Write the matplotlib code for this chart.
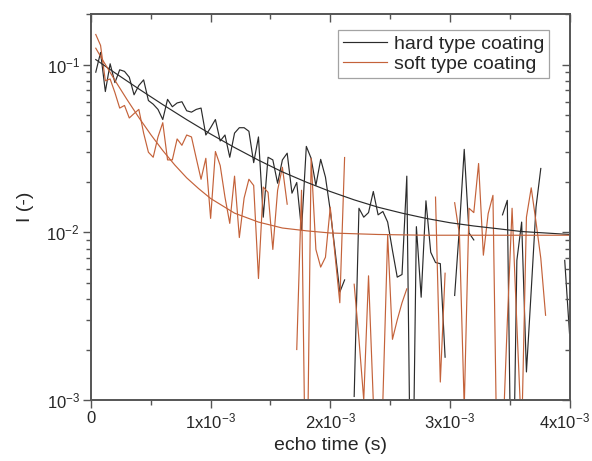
"""NMR echo decay of hard vs soft coatings, log-scale intensity vs echo time."""

import matplotlib as mpl
import numpy as np

mpl.use("Agg")
import matplotlib.pyplot as plt
import matplotlib.transforms as mtransforms
from matplotlib.ticker import FixedLocator, FuncFormatter, LogLocator, MultipleLocator, NullFormatter

nan = float("nan")

# echo times: 100 echoes, 0.04 ms spacing
echo_spacing = 4e-5
echo_time = np.arange(1, 101) * echo_spacing

# measured intensities (nan = negative value, dropped on the log axis)
hard_signal = [
    0.090, 0.118, 0.069, 0.101, 0.078, 0.093, 0.091, 0.084, 0.066, 0.075,
    0.081, 0.061, 0.058, 0.054, 0.047, 0.062, 0.056, 0.059, 0.060, 0.053,
    0.052, 0.054, 0.055, 0.038, 0.042, 0.047, 0.035, 0.038, 0.028, 0.039,
    0.042, 0.042, 0.040, 0.026, 0.037, 0.0123, 0.028, 0.027, 0.0196, 0.027,
    0.0296, 0.0171, 0.0198, 0.0103, 0.0325, 0.0276, 0.0190, 0.0272, 0.0213, 0.0135,
    0.0078, 0.0044, 0.0052, nan, 0.00105, 0.0139, 0.0123, 0.0131, 0.0175, 0.0127,
    0.0133, 0.0115, 0.0078, 0.0054, 0.0056, 0.0216, 0.000075, 0.0108, 0.0041, 0.0154,
    0.0076, 0.0066, 0.0065, 0.0018, nan, 0.0042, 0.0107, 0.0312, 0.0099, 0.0090,
    nan, nan, nan, nan, nan, 0.0127, 0.0155, 0.0001, 0.0068, 0.0115,
    0.00147, 0.0045, 0.0141, 0.024, nan, nan, nan, nan, 0.0068, 0.0025,
]
soft_signal = [
    0.151, 0.130, 0.080, 0.082, 0.068, 0.055, 0.057, 0.048, 0.051, 0.054,
    0.039, 0.030, 0.028, 0.037, 0.045, 0.027, 0.027, 0.036, 0.033, 0.038,
    0.037, 0.0276, 0.0207, 0.0276, 0.0121, 0.0303, 0.0250, 0.0162, 0.0113, 0.0216,
    0.0093, 0.0160, 0.0207, 0.0190, 0.0053, 0.0186, 0.0173, 0.0079, 0.0178, 0.0244,
    0.0147, nan, 0.0020, 0.0178, 0.00013, 0.0276, 0.0079, 0.0062, 0.0071, 0.0141,
    0.0073, 0.0038, 0.0279, nan, 0.0049, 0.0023, 0.00100, 0.0055, 0.00098, nan,
    0.00100, 0.0096, 0.0023, 0.0030, 0.0038, 0.0046, nan, nan, nan, nan,
    nan, 0.0162, 0.00128, 0.0057, nan, 0.0150, 0.0097, 0.0009, 0.0139, 0.0131,
    0.0257, 0.0073, 0.0129, 0.0166, 0.00021, 0.00052, 0.0029, 0.0139, 0.0028, 0.0006,
    0.0123, 0.0184, 0.0115, 0.0070, 0.0032, nan, nan, nan, nan, nan,
]

# fitted decay curves
hard_fit_time = [0.04e-3, 0.2e-3, 0.4e-3, 0.6e-3, 0.8e-3, 1.0e-3, 1.2e-3, 1.4e-3, 1.6e-3, 1.8e-3,
                 2.0e-3, 2.2e-3, 2.4e-3, 2.6e-3, 2.8e-3, 3.0e-3, 3.2e-3, 3.4e-3, 3.6e-3, 3.8e-3, 4.0e-3]
hard_fit = [0.107, 0.0892, 0.0715, 0.0577, 0.0469, 0.0385, 0.0320, 0.0269, 0.0229, 0.0199,
            0.0175, 0.0156, 0.0141, 0.0130, 0.0121, 0.0114, 0.0109, 0.0105, 0.0101, 0.0099, 0.0097]
soft_fit_time = [0.04e-3, 0.1e-3, 0.2e-3, 0.3e-3, 0.4e-3, 0.5e-3, 0.6e-3, 0.7e-3, 0.8e-3, 0.9e-3,
                 1.0e-3, 1.2e-3, 1.4e-3, 1.6e-3, 1.8e-3, 2.0e-3, 2.4e-3, 2.8e-3, 3.2e-3, 3.6e-3, 4.0e-3]
soft_fit = [0.1251, 0.1056, 0.0805, 0.0620, 0.0483, 0.0382, 0.0307, 0.0252, 0.0211, 0.0182,
            0.0159, 0.0130, 0.0115, 0.0106, 0.0102, 0.0099, 0.0097, 0.0096, 0.0096, 0.0096, 0.0096]

labels = ["hard type coating", "soft type coating"]
x_ticks = [0, 1e-3, 2e-3, 3e-3, 4e-3]

HARD = "#2b2b2b"
SOFT = "#c4623a"
AXIS = "#555555"
TEXT = "#262626"

plt.rcParams.update({
    "font.family": ["Liberation Sans", "DejaVu Sans"],
    "mathtext.fontset": "custom",
    "mathtext.rm": "Liberation Sans",
    "mathtext.default": "regular",
    "axes.unicode_minus": False,
    "text.color": TEXT,
})


def x_label(v, _pos):
    if v == 0:
        return "0"
    return f"{v * 1e3:g}x10$^{{-3}}$"


def y_label(v, _pos):
    return f"10$^{{{int(round(np.log10(v)))}}}$"


fig = plt.figure(figsize=(5.92, 4.61), dpi=100)
ax = fig.add_axes([0.1537, 0.1323, 0.8083, 0.8373])

ax.plot(echo_time, hard_signal, color=HARD, lw=0.85, label=labels[0])
ax.plot(echo_time, soft_signal, color=SOFT, lw=0.85, label=labels[1])
ax.plot(hard_fit_time, hard_fit, color=HARD, lw=0.85)
ax.plot(soft_fit_time, soft_fit, color=SOFT, lw=0.85)

ax.set_yscale("log")
ax.set_xlim(0, 4e-3)
ax.set_ylim(1e-3, 0.2)

ax.xaxis.set_major_locator(FixedLocator(x_ticks))
ax.xaxis.set_minor_locator(MultipleLocator(0.5e-3))
ax.xaxis.set_major_formatter(FuncFormatter(x_label))
ax.yaxis.set_major_locator(LogLocator(base=10))
ax.yaxis.set_minor_locator(LogLocator(base=10, subs=np.arange(2, 10)))
ax.yaxis.set_major_formatter(FuncFormatter(y_label))
ax.yaxis.set_minor_formatter(NullFormatter())

for side in ax.spines.values():
    side.set_color(AXIS)
    side.set_linewidth(1.4)
ax.tick_params(which="both", direction="out", color=AXIS, width=1.0, labelsize=12,
               labelcolor=TEXT, pad=2)
ax.tick_params(which="major", length=6)
ax.tick_params(which="minor", length=3.5)

# keep the last x tick label just inside the canvas
last = ax.xaxis.get_major_ticks()[-1].label1
last.set_transform(last.get_transform()
                   + mtransforms.ScaledTranslation(-4 / 72, 0, fig.dpi_scale_trans))

# mirrored ticks on top/right point into the frame
top = ax.twiny()
top.set_xlim(ax.get_xlim())
top.xaxis.set_major_locator(FixedLocator(x_ticks))
top.xaxis.set_minor_locator(MultipleLocator(0.5e-3))
top.tick_params(axis="x", which="both", direction="in", color=AXIS, width=1.0,
                labeltop=False, top=True, bottom=False)
top.tick_params(which="major", length=6)
top.tick_params(which="minor", length=3.5)
right = ax.twinx()
right.set_yscale("log")
right.set_ylim(ax.get_ylim())
right.yaxis.set_minor_locator(LogLocator(base=10, subs=np.arange(2, 10)))
right.yaxis.set_minor_formatter(NullFormatter())
right.tick_params(axis="y", which="both", direction="in", color=AXIS, width=1.0,
                  labelright=False, right=True, left=False)
right.tick_params(which="major", length=6)
right.tick_params(which="minor", length=3.5)
for twin in (top, right):
    for side in twin.spines.values():
        side.set_visible(False)

ax.set_xlabel("echo time (s)", fontsize=14, color=TEXT)
ax.set_ylabel("I (-)", fontsize=14, color=TEXT)
ax.xaxis.set_label_coords(0.5, -0.095)
ax.yaxis.set_label_coords(-0.12, 0.5)

leg = ax.legend(loc="upper right", bbox_to_anchor=(0.958, 0.9585), borderaxespad=0,
                fontsize=14, frameon=True, fancybox=False, handlelength=2.3,
                handletextpad=0.35, borderpad=0.25, labelspacing=0.15)
leg.get_frame().set_edgecolor("#8c8c8c")
leg.get_frame().set_linewidth(0.9)

fig.savefig("out.png", dpi=100)
plt.close(fig)
